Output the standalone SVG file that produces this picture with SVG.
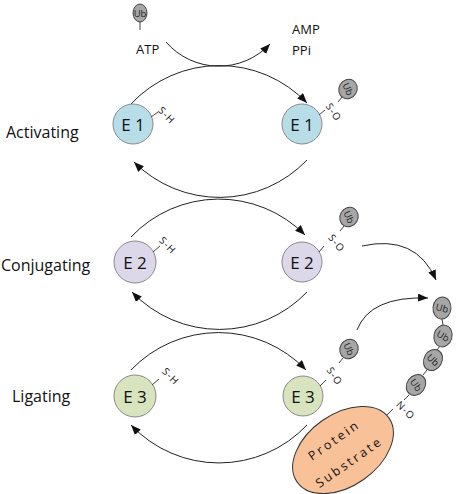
<svg xmlns="http://www.w3.org/2000/svg" width="456" height="494" viewBox="0 0 456 494">
<style>
.lbl{font-family:"Open Sans","Liberation Sans",sans-serif;font-size:16px;fill:#111}
.sub{font-size:13px}
.e{font-family:"Open Sans","Liberation Sans",sans-serif;font-size:17px;fill:#111;text-anchor:middle;dominant-baseline:central}
.sm{font-family:"Open Sans","Liberation Sans",sans-serif;font-size:10px;fill:#111;text-anchor:middle;dominant-baseline:central;letter-spacing:1px}
.ubt{font-family:"Open Sans","Liberation Sans",sans-serif;font-size:9.5px;fill:#222;text-anchor:middle;dominant-baseline:central}
.ub{fill:#a6a6a6;stroke:#444;stroke-width:1}
.st{stroke:#444;stroke-width:1;fill:none}
.arc{stroke:#222;stroke-width:1;fill:none;marker-end:url(#ah)}
.e1{fill:#b7dde8;stroke:#8a8a8a;stroke-width:1}
.e2{fill:#dcd8e9;stroke:#8a8a8a;stroke-width:1}
.e3{fill:#d7e4bd;stroke:#8a8a8a;stroke-width:1}
</style>
<defs>
<marker id="ah" viewBox="0 0 10 8" refX="10" refY="4" markerWidth="10" markerHeight="8" markerUnits="userSpaceOnUse" orient="auto">
<path d="M0,0 L10,4 L0,8 z" fill="#111"/>
</marker>
</defs>

<text class="lbl" x="6" y="138">Activating</text>
<text class="lbl" x="1" y="271">Conjugating</text>
<text class="lbl" x="12" y="402">Ligating</text>

<text class="lbl sub" x="136" y="54">ATP</text>
<text class="lbl sub" x="292" y="34">AMP</text>
<text class="lbl sub" x="292" y="55">PPi</text>

<g id="connectors">
<path class="arc" d="M166,42 A70,70 0 0 0 270,44"/>
<path class="arc" d="M131,104 A121,121 0 0 1 307,103"/>
<path class="arc" d="M307,160 A121,121 0 0 1 134,162"/>
<path class="arc" d="M131,237 A121,121 0 0 1 305,235"/>
<path class="arc" d="M307,292 A121,121 0 0 1 132,292"/>
<path class="arc" d="M131,370 A121,121 0 0 1 306,370"/>
<path class="arc" d="M307,425 A121,121 0 0 1 131,425"/>
<path class="arc" d="M362,246 Q416,234 436,280"/>
<path class="arc" d="M357,330 Q370,296 428,298"/>
</g>

<g id="ub-atp">
<line class="st" x1="140" y1="22" x2="140" y2="30"/>
<ellipse class="ub" cx="140" cy="13" rx="7" ry="9"/>
<text class="ubt" x="140" y="13">Ub</text>
</g>

<g id="e1-left">
<circle class="e1" cx="133" cy="124" r="20"/>
<text class="e" x="133" y="124">E 1</text>
<line class="st" x1="151" y1="117" x2="158" y2="112"/>
<text class="sm" transform="translate(167,115) rotate(45)">S-H</text>
</g>
<g id="e1-right">
<circle class="e1" cx="302" cy="124" r="20"/>
<text class="e" x="302" y="124">E 1</text>
<line class="st" x1="319" y1="115" x2="325" y2="110"/>
<text class="sm" transform="translate(334,112) rotate(55)">S-O</text>
<line class="st" x1="342" y1="97" x2="338" y2="102"/>
<ellipse class="ub" cx="348" cy="89" rx="9" ry="10" transform="rotate(30 348 89)"/>
<text class="ubt" transform="translate(348,89) rotate(65)">Ub</text>
</g>

<g id="e2-left">
<circle class="e2" cx="135" cy="262" r="21"/>
<text class="e" x="135" y="262">E 2</text>
<line class="st" x1="153" y1="252" x2="160" y2="246"/>
<text class="sm" transform="translate(168,245) rotate(45)">S-H</text>
</g>
<g id="e2-right">
<circle class="e2" cx="302" cy="262" r="20"/>
<text class="e" x="302" y="262">E 2</text>
<line class="st" x1="319" y1="252" x2="324" y2="246"/>
<text class="sm" transform="translate(337,243) rotate(50)">S-O</text>
<line class="st" x1="344" y1="226" x2="340" y2="231"/>
<ellipse class="ub" cx="349" cy="217" rx="9" ry="10" transform="rotate(30 349 217)"/>
<text class="ubt" transform="translate(349,217) rotate(65)">Ub</text>
</g>

<g id="e3-left">
<circle class="e3" cx="135" cy="396" r="21"/>
<text class="e" x="135" y="396">E 3</text>
<line class="st" x1="152" y1="385" x2="159" y2="379"/>
<text class="sm" transform="translate(171,376) rotate(45)">S-H</text>
</g>
<g id="e3-right">
<circle class="e3" cx="303" cy="396" r="20"/>
<text class="e" x="303" y="396">E 3</text>
<line class="st" x1="320" y1="386" x2="326" y2="380"/>
<text class="sm" transform="translate(335,376) rotate(55)">S-O</text>
<line class="st" x1="343" y1="358" x2="339" y2="363"/>
<ellipse class="ub" cx="349" cy="349" rx="9" ry="10" transform="rotate(30 349 349)"/>
<text class="ubt" transform="translate(349,349) rotate(65)">Ub</text>
</g>

<g id="ub-chain">
<line class="st" x1="442" y1="319" x2="443" y2="325"/>
<line class="st" x1="440" y1="346" x2="437" y2="350"/>
<line class="st" x1="427" y1="370" x2="423" y2="375"/>
<line class="st" x1="409" y1="395" x2="404" y2="400"/>
<ellipse class="ub" cx="442" cy="308" rx="9" ry="11" transform="rotate(5 442 308)"/>
<text class="ubt" transform="translate(442,308) rotate(15)">Ub</text>
<ellipse class="ub" cx="443" cy="336" rx="9" ry="11" transform="rotate(15 443 336)"/>
<text class="ubt" transform="translate(443,336) rotate(30)">Ub</text>
<ellipse class="ub" cx="433" cy="360" rx="9" ry="11" transform="rotate(30 433 360)"/>
<text class="ubt" transform="translate(433,360) rotate(45)">Ub</text>
<ellipse class="ub" cx="416" cy="385" rx="9" ry="11" transform="rotate(35 416 385)"/>
<text class="ubt" transform="translate(416,385) rotate(55)">Ub</text>
</g>

<g id="substrate">
<line class="st" x1="386" y1="416" x2="393" y2="409"/>
<text class="sm" transform="translate(406,410) rotate(45)">N-O</text>
<ellipse cx="343" cy="450" rx="56" ry="36" transform="rotate(-35 343 450)" fill="#f8c198" stroke="#333" stroke-width="1"/>
<text class="sm" style="font-size:12.5px;letter-spacing:2.5px" transform="translate(334,440) rotate(-35)">Protein</text>
<text class="sm" style="font-size:12.5px;letter-spacing:2.5px" transform="translate(349,462) rotate(-35)">Substrate</text>
</g>
</svg>
